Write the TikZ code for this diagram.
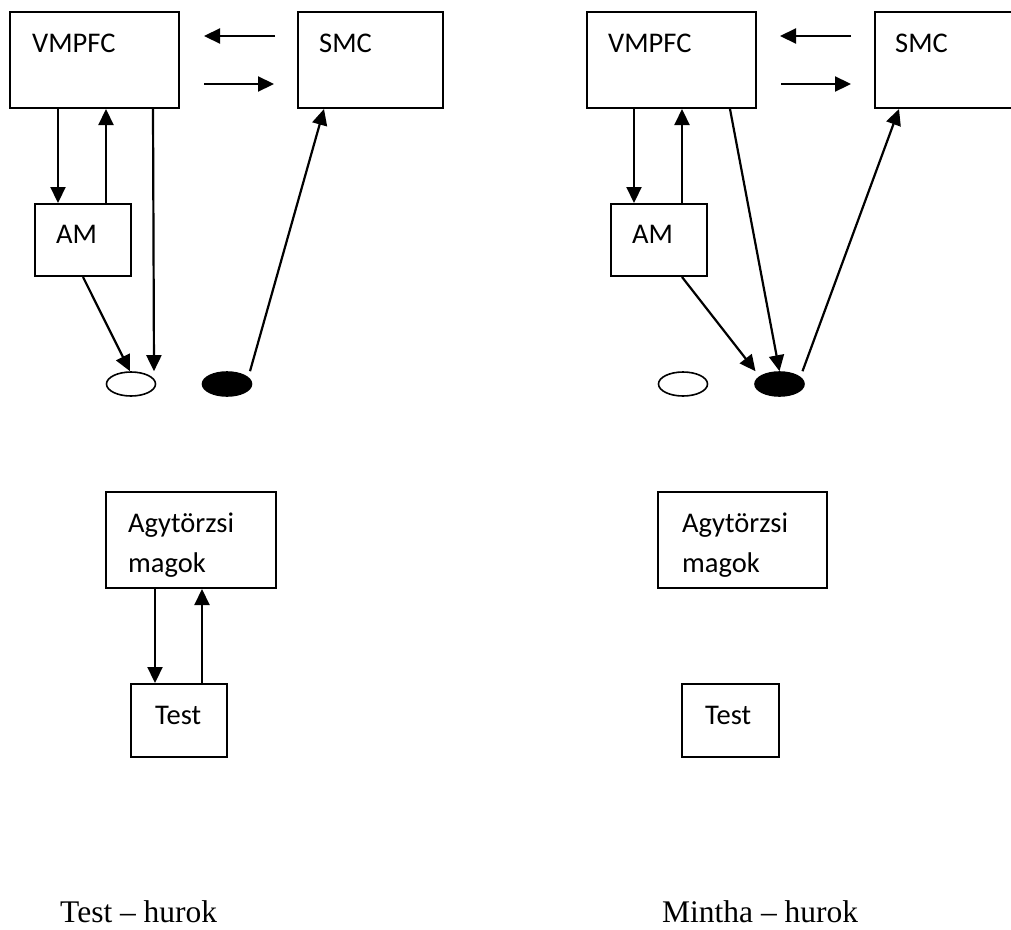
\documentclass[tikz,border=0pt]{standalone}
\usepackage{fontspec}
\newfontfamily\boxfont{Carlito}
\newfontfamily\capfont{Liberation Serif}
\usetikzlibrary{arrows.meta,shapes.geometric}
\tikzset{
  region/.style={draw, line width=2pt, rectangle, inner sep=0pt},
  blob/.style={draw, line width=1.6pt, ellipse, inner sep=0pt,
               minimum width=49pt, minimum height=24pt},
  lbl/.style={anchor=base west, inner sep=0pt,
              font=\boxfont\fontsize{28.5}{34}\selectfont},
  captext/.style={anchor=base west, inner sep=0pt,
              font=\capfont\fontsize{31.5}{38}\selectfont},
  link/.style={line width=2.2pt, -{Triangle[length=16pt,width=15pt]}},
}
\begin{document}
\begin{tikzpicture}[x=1pt,y=-1pt]
\useasboundingbox (0,0) rectangle (1011,929);
\clip (0,0) rectangle (1011,929);

% ---------- left loop ----------
\node[region, minimum width=169pt, minimum height=96pt] (vmL)  at (94.5,60) {};
\node[region, minimum width=145pt, minimum height=96pt] (smcL) at (370.5,60) {};
\node[region, minimum width=96pt,  minimum height=72pt] (amL)  at (83,240) {};
\node[blob, fill=white] (ewL) at (131,384) {};
\node[blob, fill=black] (ebL) at (227,384) {};
\node[region, minimum width=170pt, minimum height=96pt] (agyL) at (191,540) {};
\node[region, minimum width=96pt,  minimum height=73pt] (testL) at (179,720.5) {};

\node[lbl] (vmLt)   at (32,52)   {VMPFC};
\node[lbl] (smcLt)  at (319,52)  {SMC};
\node[lbl] (amLt)   at (56,243)  {AM};
\node[lbl] (agyLt1) at (128,532) {Agytörzsi};
\node[lbl] (agyLt2) at (128,572) {magok};
\node[lbl] (testLt) at (155,724) {Test};

\draw[link] ([xshift=-22pt,yshift=24pt]smcL.west) -- ([xshift=24pt,yshift=24pt]vmL.east);
\draw[link] ([xshift=24pt,yshift=-24pt]vmL.east) -- ([xshift=-23pt,yshift=-24pt]smcL.west);
\draw[link] ([xshift=49pt]vmL.south west) -- ([xshift=24pt]amL.north west);
\draw[link] ([xshift=72pt]amL.north west) -- ([xshift=97pt]vmL.south west);
\draw[link] ([xshift=144pt]vmL.south west) -- ([xshift=23pt]ewL.north);
\draw[link] (amL.south) -- ([xshift=-1pt]ewL.north);
\draw[link] ([xshift=23pt]ebL.north) -- ([xshift=27pt]smcL.south west);
\draw[link] ([xshift=50pt]agyL.south west) -- ([xshift=25pt]testL.north west);
\draw[link] ([xshift=72pt]testL.north west) -- ([xshift=97pt]agyL.south west);

% ---------- right loop ----------
\node[region, minimum width=169pt, minimum height=96pt] (vmR)  at (671.5,60) {};
\node[region, minimum width=145pt, minimum height=96pt] (smcR) at (947.5,60) {};
\node[region, minimum width=96pt,  minimum height=72pt] (amR)  at (659,240) {};
\node[blob, fill=white] (ewR) at (683,384) {};
\node[blob, fill=black] (ebR) at (779.5,384) {};
\node[region, minimum width=169pt, minimum height=96pt] (agyR) at (742.5,540) {};
\node[region, minimum width=97pt,  minimum height=73pt] (testR) at (730.5,720.5) {};

\node[lbl] (vmRt)   at (608,52)  {VMPFC};
\node[lbl] (smcRt)  at (895,52)  {SMC};
\node[lbl] (amRt)   at (632,243) {AM};
\node[lbl] (agyRt1) at (682,532) {Agytörzsi};
\node[lbl] (agyRt2) at (682,572) {magok};
\node[lbl] (testRt) at (705,724) {Test};

\draw[link] ([xshift=-23pt,yshift=24pt]smcR.west) -- ([xshift=23pt,yshift=24pt]vmR.east);
\draw[link] ([xshift=24pt,yshift=-24pt]vmR.east) -- ([xshift=-23pt,yshift=-24pt]smcR.west);
\draw[link] ([xshift=48pt]vmR.south west) -- ([xshift=24pt]amR.north west);
\draw[link] ([xshift=72pt]amR.north west) -- ([xshift=96pt]vmR.south west);
\draw[link] ([xshift=144pt]vmR.south west) -- (ebR.north);
\draw[link] ([xshift=72pt]amR.south west) -- ([xshift=-24pt]ebR.north);
\draw[link] ([xshift=23pt]ebR.north) -- ([xshift=25pt]smcR.south west);

% ---------- captions ----------
\node[captext] (capL) at (60,922)  {Test – hurok};
\node[captext] (capR) at (662,922) {Mintha – hurok};
\end{tikzpicture}
\end{document}
